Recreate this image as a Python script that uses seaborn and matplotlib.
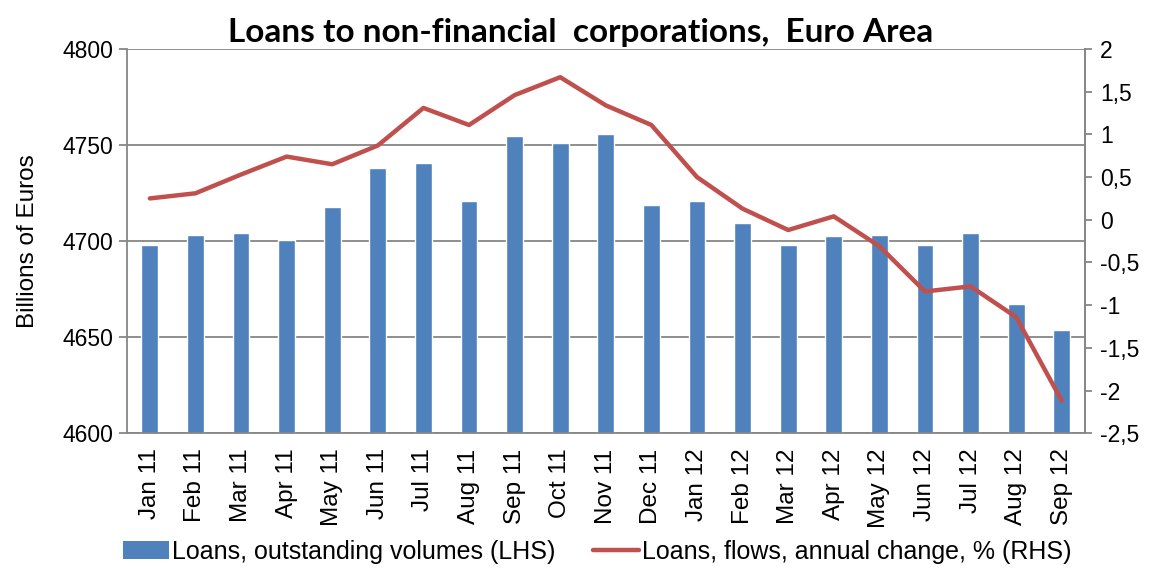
# Loans to non-financial corporations, Euro Area
# Bars: outstanding volumes (LHS), line: annual change of flows (RHS)

import matplotlib
matplotlib.use('Agg')
import matplotlib.pyplot as plt
from matplotlib.lines import Line2D
from matplotlib.patches import Patch
from matplotlib.ticker import FixedLocator, FuncFormatter
import numpy as np
import pandas as pd
import seaborn as sns

months = ['Jan 11', 'Feb 11', 'Mar 11', 'Apr 11', 'May 11', 'Jun 11',
          'Jul 11', 'Aug 11', 'Sep 11', 'Oct 11', 'Nov 11', 'Dec 11',
          'Jan 12', 'Feb 12', 'Mar 12', 'Apr 12', 'May 12', 'Jun 12',
          'Jul 12', 'Aug 12', 'Sep 12']
volumes = [4698, 4703, 4704, 4700.5, 4718, 4738, 4740.5, 4721, 4754.5,
           4751, 4756, 4719, 4721, 4709.5, 4698, 4702.5, 4703, 4698,
           4704, 4667, 4653.5]
annual_change = [0.25, 0.31, 0.53, 0.74, 0.65, 0.87, 1.31, 1.11, 1.46,
                 1.67, 1.34, 1.11, 0.50, 0.13, -0.12, 0.04, -0.31,
                 -0.84, -0.78, -1.14, -2.12]
left_ticks = [4600, 4650, 4700, 4750, 4800]
right_ticks = [-2.5, -2, -1.5, -1, -0.5, 0, 0.5, 1, 1.5, 2]

bar_color = '#4F81BD'
line_color = '#C0504D'
grid_color = '#868686'

sns.set_style('white')
plt.rcParams['font.family'] = ['Liberation Sans', 'DejaVu Sans']
plt.rcParams['text.color'] = 'black'
plt.rcParams['axes.labelcolor'] = 'black'
plt.rcParams['xtick.labelcolor'] = 'black'
plt.rcParams['ytick.labelcolor'] = 'black'

df = pd.DataFrame({'month': months, 'volume': volumes,
                   'change': annual_change})
df['pos'] = np.arange(len(df))

fig = plt.figure(figsize=(11.55, 5.7), dpi=100)
ax = fig.add_axes([0.110, 0.240, 0.829, 0.674])

sns.barplot(data=df, x='month', y='volume', color=bar_color,
            saturation=1, width=0.37, ax=ax)
ax.set_ylim(4600, 4800)
ax.set_xlim(-0.5, len(months) - 0.5)
ax.set_yticks(left_ticks)
ax.yaxis.grid(True, color=grid_color, linewidth=1.3)
ax.set_axisbelow(True)
ax.set_xlabel('')
ax.set_ylabel('Billions of Euros', fontsize=17.5, labelpad=17)
ax.tick_params(axis='y', labelsize=16.5, length=6, color=grid_color,
               labelcolor='black', width=1.3, pad=4)
ax.tick_params(axis='x', which='major', labelsize=17.5, length=0,
               labelcolor='black', rotation=90, pad=11)
ax.xaxis.set_minor_locator(FixedLocator(np.arange(-0.5, len(months), 1)))
ax.tick_params(axis='x', which='minor', length=6, color=grid_color,
               width=1.3)
for side in ['left', 'bottom', 'right', 'top']:
    ax.spines[side].set_color(grid_color)
    ax.spines[side].set_linewidth(1.3)
ax.spines['top'].set_visible(False)

ax2 = ax.twinx()
sns.lineplot(data=df, x='pos', y='change', color=line_color,
             linewidth=3.2, ax=ax2)
ax2.set_ylim(-2.5, 2)
ax2.set_yticks(right_ticks)
ax2.yaxis.set_major_formatter(
    FuncFormatter(lambda v, p: f'{v:g}'.replace('.', ',')))
ax2.set_ylabel('')
ax2.tick_params(axis='y', labelsize=16.5, length=5, direction='out',
                color=grid_color, labelcolor='black', width=1.3, pad=6)
for side in ['left', 'bottom', 'right', 'top']:
    ax2.spines[side].set_visible(False)
ax2.spines['right'].set_visible(True)
ax2.spines['right'].set_color(grid_color)
ax2.spines['right'].set_linewidth(1.3)
ax2.set_xlim(-0.5, len(months) - 0.5)

fig.suptitle('Loans to non-financial  corporations,  Euro Area',
             fontsize=24, fontweight='bold', family=['Lato', 'DejaVu Sans'],
             color='black', x=0.503, y=0.968)

handles = [Patch(facecolor=bar_color, edgecolor='none'),
           Line2D([0], [0], color=line_color, linewidth=3.2)]
labels = ['Loans, outstanding volumes (LHS)',
          'Loans, flows, annual change, % (RHS)']
fig.legend(handles, labels, loc='center', bbox_to_anchor=(0.517, 0.032),
           ncol=2, frameon=False, fontsize=18, handlelength=1.85,
           handletextpad=0.1, columnspacing=1.5, labelcolor='black')

fig.savefig('out.png', dpi=100)
